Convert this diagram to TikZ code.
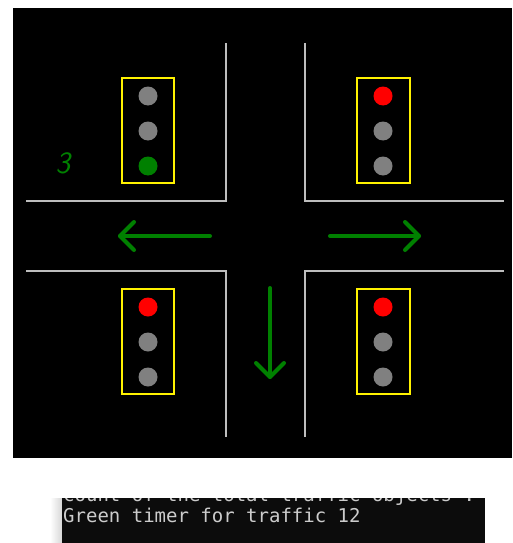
\documentclass[tikz,border=0pt]{standalone}
\usepackage{fontspec}
\newfontfamily\consfont{DejaVu Sans Mono}
\begin{document}
\begin{tikzpicture}[x=1pt,y=-1pt,
  road/.style={draw={rgb,255:red,190;green,190;blue,190}, line width=1.4pt},
  lampbox/.style={draw=yellow, line width=2pt},
  arrowline/.style={draw=tlgreen, line width=4pt, line cap=round, line join=round},
  lamp/.style={circle, minimum size=19pt, inner sep=0pt},
]
\definecolor{tlgreen}{RGB}{0,128,0}
\definecolor{tlgray}{RGB}{128,128,128}
\definecolor{consbg}{RGB}{12,12,12}
\definecolor{constext}{RGB}{204,204,204}
\useasboundingbox (0,0) rectangle (512,543);
\fill[white] (0,0) rectangle (512,543);
% main panel
\fill[black] (13,8) rectangle (512,458);
% roads
\draw[road] (26,201) -- (226,201) -- (226,43);
\draw[road] (305,43) -- (305,201) -- (504,201);
\draw[road] (26,271) -- (226,271) -- (226,437);
\draw[road] (504,271) -- (305,271) -- (305,437);
% traffic lights
\draw[lampbox] (122,78) rectangle (174,183);
\node[lamp, fill=tlgray] (tl1) at (148,96) {};
\node[lamp, fill=tlgray] (tl2) at (148,131) {};
\node[lamp, fill=tlgreen] (tl3) at (148,166) {};
\draw[lampbox] (357,78) rectangle (410,183);
\node[lamp, fill=red] (tr1) at (383,96) {};
\node[lamp, fill=tlgray] (tr2) at (383,131) {};
\node[lamp, fill=tlgray] (tr3) at (383,166) {};
\draw[lampbox] (122,289) rectangle (174,394);
\node[lamp, fill=red] (bl1) at (148,307) {};
\node[lamp, fill=tlgray] (bl2) at (148,342) {};
\node[lamp, fill=tlgray] (bl3) at (148,377) {};
\draw[lampbox] (357,289) rectangle (410,394);
\node[lamp, fill=red] (br1) at (383,307) {};
\node[lamp, fill=tlgray] (br2) at (383,342) {};
\node[lamp, fill=tlgray] (br3) at (383,377) {};
% timer
\node[text=tlgreen, font=\fontsize{31}{31}\selectfont\sffamily\slshape, inner sep=0pt] (timer) at (63,163) {3};
% arrows
\draw[arrowline] (210,236) -- (120,236);
\draw[arrowline] (134,222) -- (120,236) -- (134,250);
\draw[arrowline] (330,236) -- (419,236);
\draw[arrowline] (405,222) -- (419,236) -- (405,250);
\draw[arrowline] (270,288) -- (270,377);
\draw[arrowline] (256,363) -- (270,377) -- (284,363);
% console strip
\shade[left color=white, right color={rgb,255:red,215;green,215;blue,215}] (50,498) rectangle (62,543);
\fill[consbg] (62,498) rectangle (485,543);
\begin{scope}
\clip (62,498) rectangle (485,543);
\node[anchor=base west, inner sep=0pt, text=constext, font=\fontsize{19}{19}\selectfont\consfont] (l1) at (63,501) {count of the total traffic objects :};
\node[anchor=base west, inner sep=0pt, text=constext, font=\fontsize{19}{19}\selectfont\consfont] (l2) at (63,522) {Green timer for traffic 12};
\end{scope}
\end{tikzpicture}
\end{document}
